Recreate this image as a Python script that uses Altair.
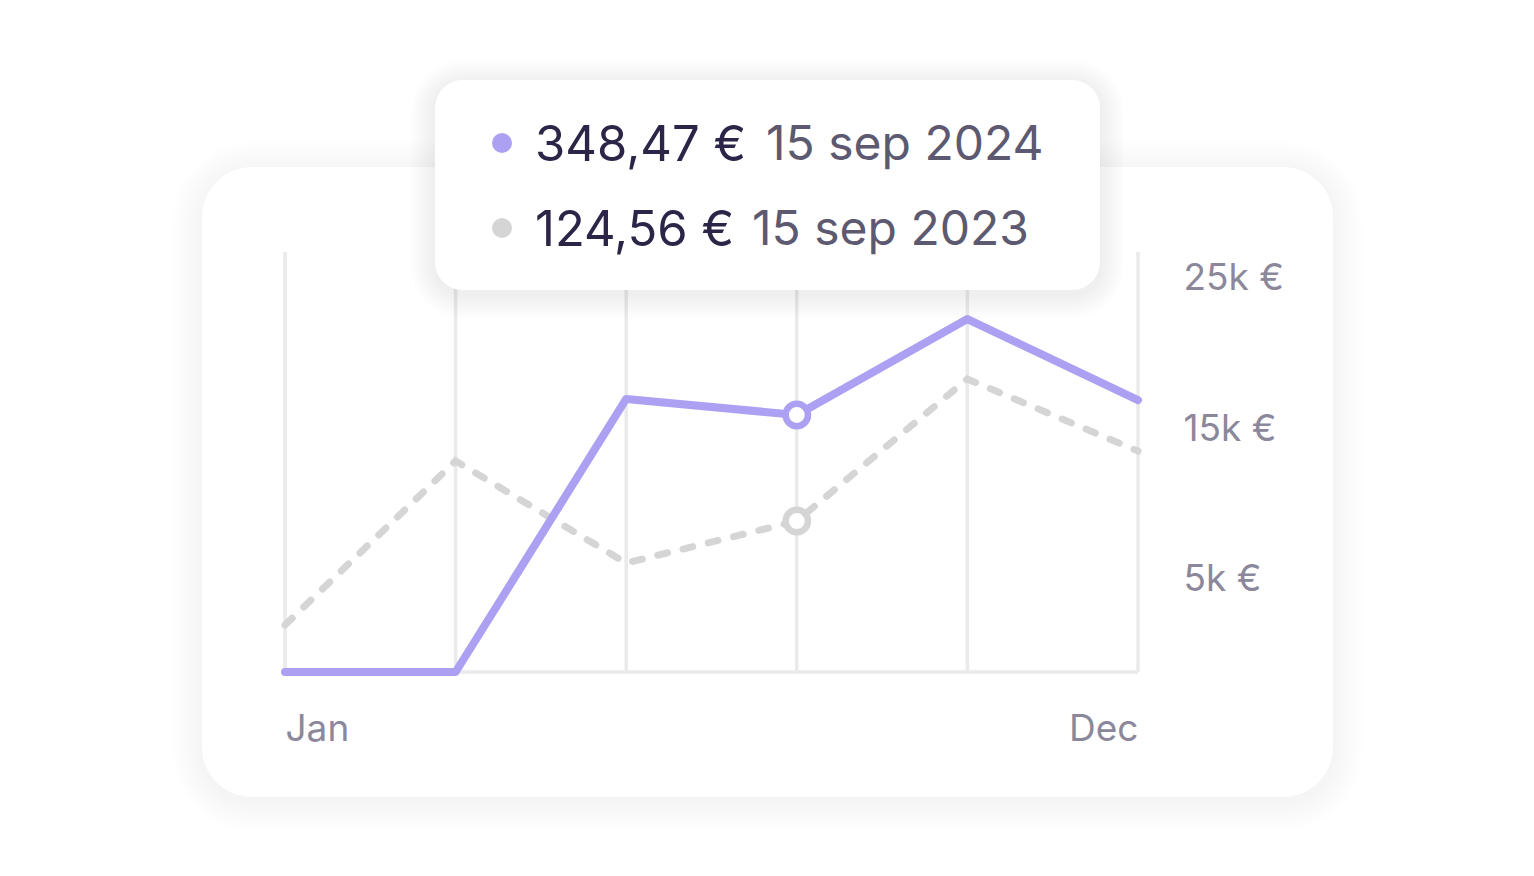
import altair as alt
import pandas as pd

# ---- data -------------------------------------------------------------
x_idx = [0, 1, 2, 3, 4, 5]
y_2024 = [0, 0, 18140, 17080, 23450, 18070]
y_2023 = [3120, 14020, 7240, 10030, 19470, 14680]
y_ticks = [5000, 15000, 25000]
y_tick_labels = ["5k €", "15k €", "25k €"]
x_tick_values = [0, 5]
x_tick_labels = ["Jan", "Dec"]
highlight_idx = 3
tip_values = ["348,47 €", "124,56 €"]
tip_dates = ["15 sep 2024", "15 sep 2023"]

PURPLE = "#ACA0F2"
GREY = "#D5D5D5"
GRID = "#EAEAEA"
FONT = "Inter"

df = pd.DataFrame({"i": x_idx, "y2024": y_2024, "y2023": y_2023})
hl = df[df["i"] == highlight_idx]
grid_df = pd.DataFrame({"i": x_idx})
one = grid_df.head(1)

W, H = 853, 420
xs = alt.Scale(domain=[0, 5], nice=False, zero=False)
ys = alt.Scale(domain=[0, 27907], nice=False)

ylab_expr = "{" + ",".join(f"'{v}':'{l}'" for v, l in zip(y_ticks, y_tick_labels)) + "}[datum.value]"
xlab_expr = "{" + ",".join(f"'{v}':'{l}'" for v, l in zip(x_tick_values, x_tick_labels)) + "}[datum.value]"

base = alt.Chart(df)

# card shadow + card
shadow_layers = []
for k in range(1, 11):
    e = 3 * k
    shadow_layers.append(
        alt.Chart(one).mark_rect(color="#000000", opacity=0.0045, cornerRadius=50 + e).encode(
            x=alt.value(-83 - e), x2=alt.value(1048 + e),
            y=alt.value(-85 - e + 4), y2=alt.value(545 + e + 4),
        )
    )
card = alt.Chart(one).mark_rect(color="white", cornerRadius=50).encode(
    x=alt.value(-83), x2=alt.value(1048), y=alt.value(-85), y2=alt.value(545)
)

grid = alt.Chart(grid_df).mark_rule(color=GRID, strokeWidth=3.5).encode(
    x=alt.X("i:Q", scale=xs, axis=alt.Axis(
        values=x_tick_values, labelExpr=xlab_expr, labelFlush=True,
        domain=False, ticks=False, grid=False, title=None, zindex=1,
        labelFontSize=37, labelColor="#8C889B", labelFont=FONT, labelPadding=39)),
    y=alt.Y("zero:Q", scale=ys, axis=alt.Axis(
        orient="right", values=y_ticks, labelExpr=ylab_expr,
        domain=False, ticks=False, grid=False, title=None, zindex=1,
        labelFontSize=37, labelColor="#8C889B", labelFont=FONT,
        labelPadding=45, labelOffset=-17)),
    y2=alt.value(0),
).transform_calculate(zero="0")

baseline = alt.Chart(one).mark_rule(color=GRID, strokeWidth=3.5).encode(
    x=alt.datum(0, scale=xs), x2=alt.datum(5), y=alt.datum(0, scale=ys)
)

line23 = base.mark_line(color=GREY, strokeWidth=7, strokeDash=[10, 16], strokeCap="round").encode(
    x=alt.X("i:Q", scale=xs), y=alt.Y("y2023:Q", scale=ys)
)
line24 = base.mark_line(color=PURPLE, strokeWidth=8, strokeCap="round", strokeJoin="round").encode(
    x=alt.X("i:Q", scale=xs), y=alt.Y("y2024:Q", scale=ys)
)
pt23 = alt.Chart(hl).mark_point(shape="circle", filled=False, fill="white", fillOpacity=1,
                                stroke=GREY, strokeWidth=6.5, size=500, opacity=1).encode(
    x=alt.X("i:Q", scale=xs), y=alt.Y("y2023:Q", scale=ys)
)
pt24 = alt.Chart(hl).mark_point(shape="circle", filled=False, fill="white", fillOpacity=1,
                                stroke=PURPLE, strokeWidth=6.5, size=500, opacity=1).encode(
    x=alt.X("i:Q", scale=xs), y=alt.Y("y2024:Q", scale=ys)
)

# tooltip box
tip_shadow = []
for k in range(1, 9):
    e = 3 * k
    tip_shadow.append(
        alt.Chart(one).mark_rect(color="#000000", opacity=0.006, cornerRadius=28 + e).encode(
            x=alt.value(150 - e), x2=alt.value(815 + e), y=alt.value(-172 - e + 4), y2=alt.value(38 + e + 4)
        )
    )
tip_box = alt.Chart(one).mark_rect(color="white", cornerRadius=28).encode(
    x=alt.value(150), x2=alt.value(815), y=alt.value(-172), y2=alt.value(38)
)
tip_rows = []
row_y = [-106, -21]
dot_cols = [PURPLE, GREY]
date_x = [481, 467]
for r in range(2):
    tip_rows.append(alt.Chart(one).mark_point(
        shape="circle", filled=True, color=dot_cols[r], size=400, opacity=1).encode(
        x=alt.value(217), y=alt.value(row_y[r] - 3)))
    tip_rows.append(alt.Chart(one).mark_text(
        text=tip_values[r], align="left", baseline="middle", fontSize=49, font=FONT,
        color="#2C2547", fontWeight=400).encode(x=alt.value(250), y=alt.value(row_y[r])))
    tip_rows.append(alt.Chart(one).mark_text(
        text=tip_dates[r], align="left", baseline="middle", fontSize=48, font=FONT,
        color="#5D5970").encode(x=alt.value(date_x[r]), y=alt.value(row_y[r])))

chart = alt.layer(
    *shadow_layers, card, grid, baseline, line23, line24, pt23, pt24,
    *tip_shadow, tip_box, *tip_rows
).properties(
    width=W, height=H,
    padding={"left": 277, "top": 244, "right": 388, "bottom": 196},
    autosize=alt.AutoSizeParams(type="none"),
    background="white",
).configure_view(stroke=None)

chart.save("out.html", embed_options={"renderer": "svg", "actions": False})
